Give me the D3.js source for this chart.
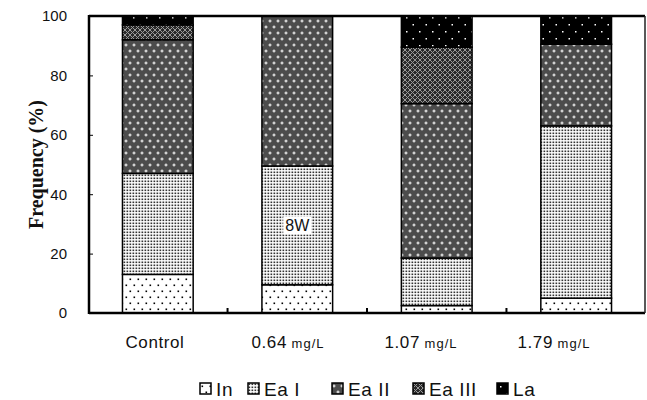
<!DOCTYPE html>
<html>
<head>
<meta charset="utf-8">
<script src="https://cdn.jsdelivr.net/npm/d3@7"></script>
<style>
  body { margin: 0; background: #fff; }
  svg { display: block; }
  text { font-family: Arial, "Liberation Sans", sans-serif; fill: #111; }
</style>
</head>
<body>
<div id="chart"></div>
<script>
// chart data
const groups = ["Control", "0.64", "1.07", "1.79"];
const units = ["", "mg/L", "mg/L", "mg/L"];
const stages = ["In", "Ea I", "Ea II", "Ea III", "La"];
const inVals    = [13,   9.5,  2.5,  5];
const eaIVals   = [34,   40,   16,   58];
const eaIIVals  = [45,   50.5, 52,   27.5];
const eaIIIVals = [5,    0,    19,   0];
const laVals    = [3,    0,    10.5, 9.5];
const yTicks = [0, 20, 40, 60, 80, 100];
const note = {group: "0.64", value: 29.5, text: "8W"};

const width = 647, height = 400;
const margin = {left: 89, right: 2, top: 16, bottom: 87};

const svg = d3.select("#chart").append("svg")
    .attr("width", width)
    .attr("height", height);

// patterns
const defs = svg.append("defs");
const patIds = ["p-in", "p-ea1", "p-ea2", "p-ea3", "p-la"];

// In: white, sparse black dots
let p = defs.append("pattern").attr("id", "p-in").attr("patternUnits", "userSpaceOnUse")
    .attr("width", 8).attr("height", 12);
p.append("rect").attr("width", 8).attr("height", 12).attr("fill", "#fff");
p.append("rect").attr("x", 1.5).attr("y", 2.5).attr("width", 1.6).attr("height", 1.6).attr("fill", "#000");
p.append("rect").attr("x", 5.5).attr("y", 8.5).attr("width", 1.6).attr("height", 1.6).attr("fill", "#000");

// Ea I: dense dot grid
p = defs.append("pattern").attr("id", "p-ea1").attr("patternUnits", "userSpaceOnUse")
    .attr("width", 3).attr("height", 3);
p.append("rect").attr("width", 3).attr("height", 3).attr("fill", "#fff");
p.append("rect").attr("x", 0.5).attr("y", 0.5).attr("width", 1.7).attr("height", 1.6).attr("fill", "#333");

// Ea II: dark grey with white plus dots
p = defs.append("pattern").attr("id", "p-ea2").attr("patternUnits", "userSpaceOnUse")
    .attr("width", 8).attr("height", 12);
p.append("rect").attr("width", 8).attr("height", 12).attr("fill", "#4c4c4c");
[[2, 3], [6, 9]].forEach(([cx, cy]) => {
    p.append("rect").attr("x", cx - 1.5).attr("y", cy - 0.5).attr("width", 3).attr("height", 1).attr("fill", "#fff");
    p.append("rect").attr("x", cx - 0.5).attr("y", cy - 1.5).attr("width", 1).attr("height", 3).attr("fill", "#fff");
});

// Ea III: cross hatch
p = defs.append("pattern").attr("id", "p-ea3").attr("patternUnits", "userSpaceOnUse")
    .attr("width", 5).attr("height", 5);
p.append("rect").attr("width", 5).attr("height", 5).attr("fill", "#2a2a2a");
p.append("path").attr("d", "M0,0L5,5M5,0L0,5").attr("stroke", "#9a9a9a").attr("stroke-width", 1);

// La: black with sparse white dots
p = defs.append("pattern").attr("id", "p-la").attr("patternUnits", "userSpaceOnUse")
    .attr("width", 13).attr("height", 14);
p.append("rect").attr("width", 13).attr("height", 14).attr("fill", "#000");
p.append("rect").attr("x", 3).attr("y", 3).attr("width", 1.5).attr("height", 1.5).attr("fill", "#fff");
p.append("rect").attr("x", 9.5).attr("y", 10).attr("width", 1.5).attr("height", 1.5).attr("fill", "#fff");

// scales
const x = d3.scaleBand()
    .domain(groups)
    .range([margin.left, width - margin.right])
    .paddingInner(0.493)
    .paddingOuter(0.24);
const y = d3.scaleLinear().domain([0, 100]).range([height - margin.bottom, margin.top]);
const labelX = d3.scalePoint().domain(groups).range([155, 554]);

// stacked data
const rows = groups.map((g, i) => ({
    group: g,
    "In": inVals[i], "Ea I": eaIVals[i], "Ea II": eaIIVals[i], "Ea III": eaIIIVals[i], "La": laVals[i]
}));
const series = d3.stack().keys(stages)(rows);

svg.append("g")
    .selectAll("g")
    .data(series)
    .join("g")
    .attr("fill", (d, i) => `url(#${patIds[i]})`)
    .selectAll("rect")
    .data(d => d.filter(s => s[1] - s[0] > 0))
    .join("rect")
    .attr("x", d => x(d.data.group))
    .attr("y", d => y(d[1]))
    .attr("width", x.bandwidth())
    .attr("height", d => y(d[0]) - y(d[1]))
    .attr("stroke", "#000")
    .attr("stroke-width", 1.5);

// note label
const nx = x(note.group) + x.bandwidth() / 2, ny = y(note.value);
svg.append("rect")
    .attr("x", nx - 14).attr("y", ny - 9)
    .attr("width", 28).attr("height", 18)
    .attr("fill", "#fff");
svg.append("text")
    .attr("x", nx).attr("y", ny)
    .attr("dy", "0.36em")
    .attr("text-anchor", "middle")
    .style("font-size", "16px")
    .text(note.text);

// y axis
const yAxis = svg.append("g")
    .attr("transform", `translate(${margin.left},0)`)
    .call(d3.axisLeft(y).tickValues(yTicks).tickSize(-4).tickPadding(22));
yAxis.select(".domain").remove();
yAxis.selectAll(".tick line").attr("stroke", "#000");
yAxis.selectAll(".tick text")
    .style("font-size", "15px")
    .style("font-family", "Arial, 'Liberation Sans', sans-serif")
    .attr("fill", "#111");

// frame
const x0 = margin.left, x1 = width - margin.right;
svg.append("line").attr("x1", x0).attr("x2", x0).attr("y1", y(100) - 1).attr("y2", y(0) + 1)
    .attr("stroke", "#000").attr("stroke-width", 2.5);
svg.append("line").attr("x1", x0).attr("x2", x1).attr("y1", y(0)).attr("y2", y(0))
    .attr("stroke", "#000").attr("stroke-width", 2.5);
svg.append("line").attr("x1", x0).attr("x2", x1).attr("y1", y(100)).attr("y2", y(100))
    .attr("stroke", "#000").attr("stroke-width", 2.5);
svg.append("line").attr("x1", x1).attr("x2", x1).attr("y1", y(100)).attr("y2", y(0))
    .attr("stroke", "#222").attr("stroke-width", 1.5);

// category boundary ticks
svg.append("g")
    .selectAll("line")
    .data(groups.slice(0, -1))
    .join("line")
    .attr("x1", d => x(d) + x.bandwidth() + (x.step() - x.bandwidth()) / 2)
    .attr("x2", d => x(d) + x.bandwidth() + (x.step() - x.bandwidth()) / 2)
    .attr("y1", y(0))
    .attr("y2", y(0) - 5)
    .attr("stroke", "#000")
    .attr("stroke-width", 2);

// category labels
const catText = svg.append("g")
    .selectAll("text")
    .data(groups)
    .join("text")
    .attr("x", d => labelX(d))
    .attr("y", 342)
    .attr("dy", "0.36em")
    .attr("text-anchor", "middle")
    .style("font-size", "17px")
    .style("letter-spacing", "0.6px");
catText.append("tspan").text(d => d);
catText.append("tspan")
    .style("font-size", "13px")
    .style("letter-spacing", "1px")
    .text((d, i) => units[i] ? " " + units[i] : "");

// y axis title
svg.append("text")
    .attr("transform", `translate(36, ${(y(0) + y(100)) / 2}) rotate(-90)`)
    .attr("text-anchor", "middle")
    .attr("dy", "0.35em")
    .style("font-family", "'Times New Roman', 'Liberation Serif', serif")
    .style("font-weight", "bold")
    .style("font-size", "20px")
    .text("Frequency (%)");

// legend
const legendX = [200, 248, 332, 413, 497];
const legend = svg.append("g")
    .selectAll("g")
    .data(stages)
    .join("g")
    .attr("transform", (d, i) => `translate(${legendX[i]}, 383)`);
legend.append("rect")
    .attr("width", 11).attr("height", 11)
    .attr("fill", (d, i) => `url(#${patIds[i]})`)
    .attr("stroke", "#000")
    .attr("stroke-width", 1.5);
legend.append("text")
    .attr("x", 16)
    .attr("y", 6)
    .attr("dy", "0.36em")
    .style("font-size", "19px")
    .style("letter-spacing", "0.6px")
    .text(d => d);
</script>
</body>
</html>
